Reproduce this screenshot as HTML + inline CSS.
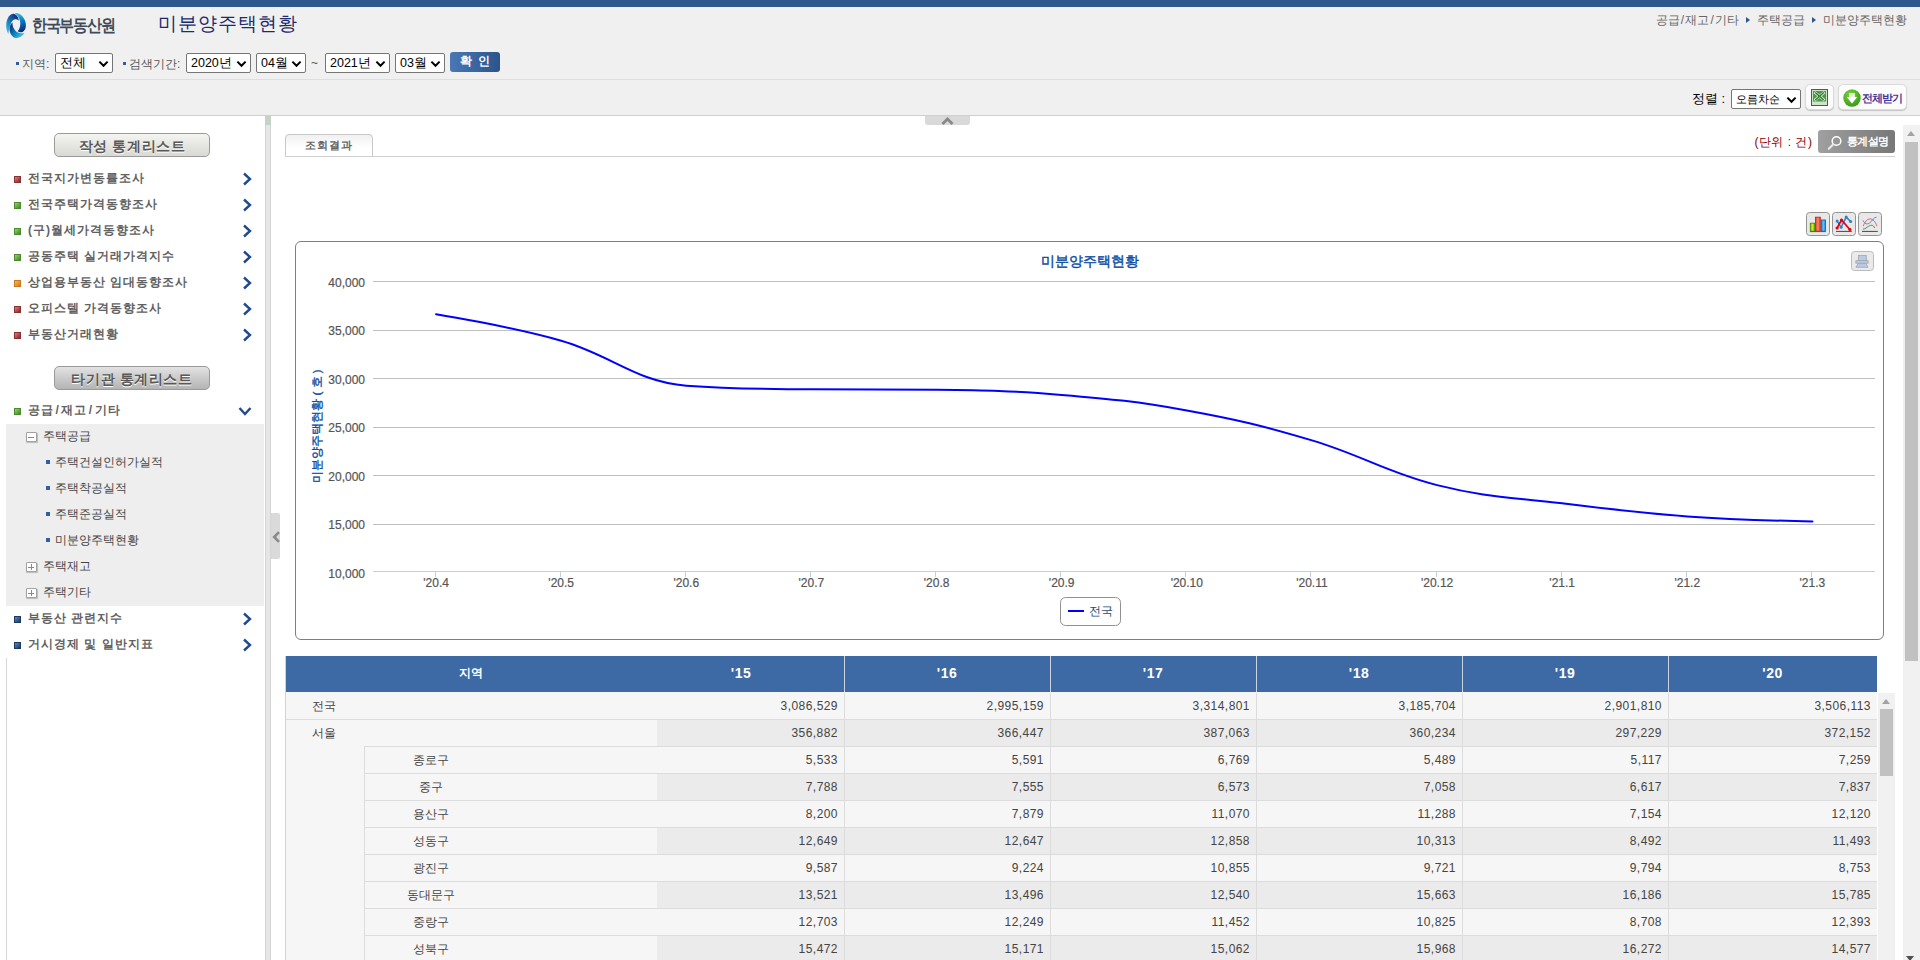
<!DOCTYPE html>
<html lang="ko">
<head>
<meta charset="utf-8">
<title>미분양주택현황</title>
<style>
*{box-sizing:border-box;margin:0;padding:0}
html,body{width:1920px;height:960px;overflow:hidden;position:relative;background:#fff;font-family:"Liberation Sans",sans-serif;font-size:12px;color:#333}
.abs{position:absolute}
#topbar{position:absolute;left:0;top:0;width:1920px;height:7px;background:#2e578c}
#header{position:absolute;left:0;top:7px;width:1920px;height:109px;background:#f0f0f0;border-bottom:1px solid #cfcfcf}
#hline{position:absolute;left:0;top:79px;width:1920px;height:1px;background:#dedede}
#sidebar{position:absolute;left:0;top:116px;width:265px;height:844px;background:#fff}
#splitter{position:absolute;left:265px;top:116px;width:5.5px;height:844px;background:#e6e6e6;border-left:1px solid #d4d4d4;border-right:1px solid #d4d4d4}
#splittop{position:absolute;left:265px;top:116px;width:5.5px;height:9px;background:#c6d2c8}
#splithandle{position:absolute;left:270.7px;top:513px;width:9.2px;height:45.5px;background:#dadada;border-radius:0 2px 2px 0;overflow:hidden;z-index:5}
#main{position:absolute;left:271px;top:116px;width:1632px;height:844px;background:#fff}
/* header */
#logotext{position:absolute;left:32px;top:15px;font-size:17px;font-weight:bold;color:#414a57;letter-spacing:-1.5px;line-height:22px;white-space:nowrap;transform:scaleX(.885);transform-origin:0 0}
#ptitle{position:absolute;left:158px;top:12px;font-size:19px;color:#1c2a6e;letter-spacing:1px;line-height:24px;white-space:nowrap}
#crumb{position:absolute;right:13px;top:12px;font-size:12px;color:#666;line-height:16px;white-space:nowrap;letter-spacing:0}
#crumb u{text-decoration:none;padding:0 1.2px}
#crumb i{display:inline-block;width:0;height:0;border-left:4px solid #2e578c;border-top:3px solid transparent;border-bottom:3px solid transparent;margin:0 7px 1px 7px;vertical-align:middle}
.flabel{position:absolute;top:56px;font-size:12px;color:#555;line-height:16px;white-space:nowrap}
.fbul{position:absolute;top:62px;width:3px;height:3px;background:#2e5fa3}
.sel{position:absolute;height:20px;border:1px solid #767676;border-radius:2px;background:#fff;font-size:12.5px;color:#000;line-height:19px;padding-left:4px;white-space:nowrap}
.sel svg{position:absolute;right:3.5px;top:5.5px}
#okbtn{position:absolute;left:450px;top:52px;width:50px;height:20px;border-radius:3px;background:linear-gradient(90deg,#4a78b4,#2c548b);color:#fff;font-weight:bold;font-size:12px;line-height:19px;text-align:center;letter-spacing:0;white-space:pre}
#sortlabel{position:absolute;left:1692px;top:91px;font-size:13px;color:#000;line-height:16px;white-space:nowrap}
.ibtn{position:absolute;border:1px solid #dadada;border-radius:5px;background:#fcfcfc;box-shadow:0 1px 1px rgba(0,0,0,.18)}
/* sidebar */
.sbtn{position:absolute;left:54px;width:156px;height:24px;border:1px solid #9a9a9a;border-radius:5px;text-align:center;font-size:14px;font-weight:bold;color:#585858;line-height:24px;letter-spacing:.6px;text-shadow:0 1px 0 #fff;white-space:nowrap}
.mi{position:absolute;left:28px;font-size:12px;font-weight:bold;color:#616161;letter-spacing:1px;line-height:16px;white-space:nowrap}
.mb{position:absolute;left:14px;width:7px;height:7px}
.chev{position:absolute;left:242px}
.sm{position:absolute;font-size:12px;color:#444;letter-spacing:0;line-height:16px;white-space:nowrap}
.sb{position:absolute;left:46px;width:4px;height:4px;background:#2e5fa3}
.pm{position:absolute;left:26.3px;width:10.4px;height:10.4px;border:1px solid #a2a2a2;border-radius:1px;background:#fff;box-shadow:.5px 1px 1px rgba(0,0,0,.22)}
.pm:before{content:"";position:absolute;left:1px;top:3px;width:6px;height:2px;background:#8a8a8a;height:1px;top:3.5px}
.pm.plus:after{content:"";position:absolute;left:3.5px;top:1px;width:1px;height:6px;background:#8a8a8a}
/* main */
#tab{position:absolute;left:285px;top:134px;width:88px;height:23px;border:1px solid #c8c8c8;border-radius:4px 4px 0 0;background:linear-gradient(#f0f0f0,#fff 60%);font-size:11px;font-weight:bold;color:#666;text-align:center;line-height:21px;letter-spacing:1.2px;white-space:nowrap}
#tabline{position:absolute;left:285px;top:156px;width:1610px;height:1px;background:#d0d0d0}
#unit{position:absolute;left:1754.5px;top:134px;font-size:12px;color:#8b0000;line-height:16px;white-space:nowrap;letter-spacing:0.5px}
#descbtn{position:absolute;left:1818px;top:130px;width:77px;height:23px;border-radius:3px;background:linear-gradient(90deg,#a0a0a0,#777);color:#fff;font-weight:bold;font-size:11px;line-height:22px;padding-left:29px;white-space:nowrap;letter-spacing:-.7px}
.cbtn{position:absolute;top:212.1px;width:23.5px;height:23.5px;border:1px solid #939393;border-radius:3.5px;background:#e9e8e8}
#chartbox{position:absolute;left:295px;top:241px;width:1589px;height:399px;border:1px solid #7f7f7f;border-radius:6px;background:#fff}
#printbtn{position:absolute;left:1851.3px;top:251.1px;width:23.2px;height:19.5px;border:1px solid #bcbcbc;border-radius:3.5px;background:#eaeaea}
/* table */
#thead{position:absolute;left:285px;top:656px;width:1592px;height:36px;background:#3d69a5}
.th{position:absolute;top:656px;height:36px;line-height:35px;color:#fff;font-weight:bold;font-size:14px;letter-spacing:.5px;text-align:center;white-space:nowrap}
.thsep{position:absolute;top:656px;width:1px;height:36px;background:#c9d3e2}
.row{position:absolute;left:286px;width:1591px;height:27px;background:#f6f6f6;border-bottom:1px solid #dcdcdc}
.alt{position:absolute;left:371px;top:0;width:1220px;height:26px;background:#ebebeb}
.c{position:absolute;top:0;height:26px;line-height:26px;font-size:12px;color:#444;white-space:nowrap;text-align:right;padding-right:6px;border-right:1px solid #dcdcdc;letter-spacing:0.45px}
.r1{position:absolute;left:26px;top:0;line-height:26px;font-size:12px;color:#444;white-space:nowrap}
.gu{position:absolute;left:78px;top:0;width:133px;height:26px;line-height:26px;text-align:center;font-size:12px;color:#444;border-left:1px solid #dcdcdc;white-space:nowrap}
/* scrollbars */
#sb1{position:absolute;left:1903px;top:125px;width:17px;height:835px;background:#f1f1f1}
#sb1 b{position:absolute;left:2px;top:17px;width:13px;height:519px;background:#c1c1c1}
#sb2{position:absolute;left:1878px;top:693px;width:17px;height:267px;background:#f1f1f1}
#sb2 b{position:absolute;left:2px;top:16px;width:13px;height:67px;background:#c1c1c1}
.sarr{position:absolute;left:4px;top:6px;width:0;height:0;border-left:4.5px solid transparent;border-right:4.5px solid transparent;border-bottom:5px solid #a3a3a3}
#page{position:absolute;left:0;top:0;width:1920px;height:960px;overflow:hidden}
</style>
</head>
<body>
<div id="page">
<div id="topbar"></div>
<div id="header"></div>
<div id="hline"></div>
<svg class="abs" style="left:4.9px;top:12.1px" width="22.5" height="27" viewBox="0 0 600 720">
  <defs>
    <linearGradient id="lg1" x1="0.1" y1="1" x2="0.9" y2="0.2"><stop offset="0" stop-color="#45c6e2"/><stop offset="0.45" stop-color="#0f7fc4"/><stop offset="1" stop-color="#1b2c78"/></linearGradient>
    <linearGradient id="lg2" x1="0.2" y1="0" x2="0.5" y2="1"><stop offset="0" stop-color="#36c4de"/><stop offset="0.45" stop-color="#0a86c6"/><stop offset="1" stop-color="#0b2a78"/></linearGradient>
    <linearGradient id="lg3" x1="1" y1="0.8" x2="0.1" y2="0.1"><stop offset="0" stop-color="#4ccbe2"/><stop offset="0.45" stop-color="#0a8cc8"/><stop offset="1" stop-color="#13297a"/></linearGradient>
  </defs>
  <path d="M 90 590 C 40 500 20 400 35 300 C 55 160 120 60 200 50 C 280 45 350 110 370 230 C 320 180 250 180 200 230 C 140 300 100 450 90 590 Z" fill="url(#lg1)"/>
  <path d="M 260 30 C 340 10 450 60 520 200 C 580 330 570 480 470 530 C 420 550 370 540 340 510 C 400 440 420 340 400 240 C 380 150 320 70 260 30 Z" fill="url(#lg2)"/>
  <path d="M 520 560 C 470 640 380 700 290 690 C 200 680 130 580 120 470 C 115 400 150 310 200 280 C 190 370 230 450 290 510 C 350 560 440 570 520 560 Z" fill="url(#lg3)"/>
</svg>
<div id="logotext">한국부동산원</div>
<div id="ptitle">미분양주택현황</div>
<div id="crumb">공급<u>/</u>재고<u>/</u>기타<i></i>주택공급<i></i>미분양주택현황</div>

<div class="fbul" style="left:16px"></div>
<div class="flabel" style="left:22px">지역:</div>
<div class="sel" style="left:55px;top:53px;width:58px">전체<svg width="11" height="8" viewBox="0 0 11 8"><path d="M1.4 1.6 L5.5 5.8 L9.6 1.6" fill="none" stroke="#000" stroke-width="2"/></svg></div>
<div class="fbul" style="left:123px"></div>
<div class="flabel" style="left:129px">검색기간:</div>
<div class="sel" style="left:186px;top:53px;width:65px">2020년<svg width="11" height="8" viewBox="0 0 11 8"><path d="M1.4 1.6 L5.5 5.8 L9.6 1.6" fill="none" stroke="#000" stroke-width="2"/></svg></div>
<div class="sel" style="left:256px;top:53px;width:50px">04월<svg width="11" height="8" viewBox="0 0 11 8"><path d="M1.4 1.6 L5.5 5.8 L9.6 1.6" fill="none" stroke="#000" stroke-width="2"/></svg></div>
<div class="flabel" style="left:311px;top:55px">~</div>
<div class="sel" style="left:325px;top:53px;width:65px">2021년<svg width="11" height="8" viewBox="0 0 11 8"><path d="M1.4 1.6 L5.5 5.8 L9.6 1.6" fill="none" stroke="#000" stroke-width="2"/></svg></div>
<div class="sel" style="left:395px;top:53px;width:50px">03월<svg width="11" height="8" viewBox="0 0 11 8"><path d="M1.4 1.6 L5.5 5.8 L9.6 1.6" fill="none" stroke="#000" stroke-width="2"/></svg></div>
<div id="okbtn">확  인</div>

<div id="sortlabel">정렬 :</div>
<div class="sel" style="left:1731px;top:89px;width:70px;font-size:11.3px">오름차순<svg width="11" height="8" viewBox="0 0 11 8"><path d="M1.4 1.6 L5.5 5.8 L9.6 1.6" fill="none" stroke="#000" stroke-width="2"/></svg></div>
<div class="ibtn" style="left:1805px;top:84px;width:28.5px;height:26px">
  <svg class="abs" style="left:5px;top:4px" width="17" height="17" viewBox="0 0 17 17">
    <rect x="0.5" y="0.5" width="16" height="16" fill="#cfe3c8" stroke="#356f35"/>
    <rect x="2" y="2" width="13" height="10.5" fill="#4c9a48"/>
    <path d="M3.5 3.2 L13.5 11.3 M13.5 3.2 L3.5 11.3" stroke="#e8f3e4" stroke-width="2.6"/>
    <path d="M4.2 3.6 L12.8 10.9 M12.8 3.6 L4.2 10.9" stroke="#1f7a2a" stroke-width="1.3"/>
  </svg>
</div>
<div class="ibtn" style="left:1837.5px;top:84px;width:69px;height:26px">
  <svg class="abs" style="left:4px;top:4px" width="18" height="18" viewBox="0 0 18 18">
    <defs><radialGradient id="dg" cx="0.4" cy="0.3" r="0.8"><stop offset="0" stop-color="#7ed23a"/><stop offset="1" stop-color="#2f9416"/></radialGradient></defs>
    <circle cx="9" cy="9" r="8.7" fill="url(#dg)"/>
    <path d="M6 4.2 H12 V8 H14.2 L9 14.6 L3.8 8 H6 Z" fill="#fff"/>
    <path d="M6 5.6 H12 M6 7 H12" stroke="#bfe3a8" stroke-width=".7"/>
  </svg>
  <div class="abs" style="left:23px;top:5px;font-size:11px;font-weight:bold;color:#46359a;line-height:16px;white-space:nowrap;letter-spacing:-1px">전체받기</div>
</div>
<div id="sidebar"></div>
<div id="splitter"></div><div id="splittop"></div>
<div id="splithandle"><svg class="abs" style="left:1px;top:18px" width="8" height="12" viewBox="0 0 8 12"><path d="M7 1.2 L2.2 6 L7 10.8" fill="none" stroke="#8a8a8a" stroke-width="2.6"/></svg></div>
<div class="sbtn" style="top:133px;background:linear-gradient(#f4f4f0,#d9d9d4)">작성 통계리스트</div>
<div class="sbtn" style="top:366px;background:linear-gradient(#e2e2e2,#b4b4b4)">타기관 통계리스트</div>
<div class="mb" style="top:175.5px;background:linear-gradient(135deg,#d98080,#8a2222);border:1px solid #8a3030"></div>
<div class="mi" style="top:170px">전국지가변동률조사</div>
<svg class="chev" style="top:172px" width="10" height="14" viewBox="0 0 10 14"><path d="M2 1.5 L8 7 L2 12.5" fill="none" stroke="#1f4b8e" stroke-width="2.4"/></svg>
<div class="mb" style="top:201.5px;background:linear-gradient(135deg,#9bd06a,#3a8a22);border:1px solid #4a8a30"></div>
<div class="mi" style="top:196px">전국주택가격동향조사</div>
<svg class="chev" style="top:198px" width="10" height="14" viewBox="0 0 10 14"><path d="M2 1.5 L8 7 L2 12.5" fill="none" stroke="#1f4b8e" stroke-width="2.4"/></svg>
<div class="mb" style="top:227.5px;background:linear-gradient(135deg,#9bd06a,#3a8a22);border:1px solid #4a8a30"></div>
<div class="mi" style="top:222px">(구)월세가격동향조사</div>
<svg class="chev" style="top:224px" width="10" height="14" viewBox="0 0 10 14"><path d="M2 1.5 L8 7 L2 12.5" fill="none" stroke="#1f4b8e" stroke-width="2.4"/></svg>
<div class="mb" style="top:253.5px;background:linear-gradient(135deg,#9bd06a,#3a8a22);border:1px solid #4a8a30"></div>
<div class="mi" style="top:248px">공동주택 실거래가격지수</div>
<svg class="chev" style="top:250px" width="10" height="14" viewBox="0 0 10 14"><path d="M2 1.5 L8 7 L2 12.5" fill="none" stroke="#1f4b8e" stroke-width="2.4"/></svg>
<div class="mb" style="top:279.5px;background:linear-gradient(135deg,#f5b860,#d87a10);border:1px solid #c87a20"></div>
<div class="mi" style="top:274px">상업용부동산 임대동향조사</div>
<svg class="chev" style="top:276px" width="10" height="14" viewBox="0 0 10 14"><path d="M2 1.5 L8 7 L2 12.5" fill="none" stroke="#1f4b8e" stroke-width="2.4"/></svg>
<div class="mb" style="top:305.5px;background:linear-gradient(135deg,#d98080,#8a2222);border:1px solid #8a3030"></div>
<div class="mi" style="top:300px">오피스텔 가격동향조사</div>
<svg class="chev" style="top:302px" width="10" height="14" viewBox="0 0 10 14"><path d="M2 1.5 L8 7 L2 12.5" fill="none" stroke="#1f4b8e" stroke-width="2.4"/></svg>
<div class="mb" style="top:331.5px;background:linear-gradient(135deg,#d98080,#8a2222);border:1px solid #8a3030"></div>
<div class="mi" style="top:326px">부동산거래현황</div>
<svg class="chev" style="top:328px" width="10" height="14" viewBox="0 0 10 14"><path d="M2 1.5 L8 7 L2 12.5" fill="none" stroke="#1f4b8e" stroke-width="2.4"/></svg>
<div class="mb" style="top:407.5px;background:linear-gradient(135deg,#9bd06a,#3a8a22);border:1px solid #4a8a30"></div>
<div class="mi" style="top:402px">공급<span style="padding:0 1.5px">/</span>재고<span style="padding:0 1.5px">/</span>기타</div>
<svg class="abs" style="left:238px;top:406px" width="14" height="10" viewBox="0 0 14 10"><path d="M1.5 2 L7 8 L12.5 2" fill="none" stroke="#1f4b8e" stroke-width="2.4"/></svg>
<div class="abs" style="left:6px;top:424px;width:258px;height:182px;background:#eeeeee"></div>
<div class="pm" style="top:432px"></div><div class="sm" style="left:43px;top:428px">주택공급</div>
<div class="sb" style="top:460px"></div><div class="sm" style="left:55px;top:454px">주택건설인허가실적</div>
<div class="sb" style="top:486px"></div><div class="sm" style="left:55px;top:480px">주택착공실적</div>
<div class="sb" style="top:512px"></div><div class="sm" style="left:55px;top:506px">주택준공실적</div>
<div class="sb" style="top:538px"></div><div class="sm" style="left:55px;top:532px">미분양주택현황</div>
<div class="pm plus" style="top:562px"></div><div class="sm" style="left:43px;top:558px">주택재고</div>
<div class="pm plus" style="top:588px"></div><div class="sm" style="left:43px;top:584px">주택기타</div>
<div class="mb" style="top:615.5px;background:linear-gradient(135deg,#5a88b8,#143a66);border:1px solid #1a3a60"></div>
<div class="mi" style="top:610px">부동산 관련지수</div>
<svg class="chev" style="top:612px" width="10" height="14" viewBox="0 0 10 14"><path d="M2 1.5 L8 7 L2 12.5" fill="none" stroke="#1f4b8e" stroke-width="2.4"/></svg>
<div class="mb" style="top:641.5px;background:linear-gradient(135deg,#5a88b8,#143a66);border:1px solid #1a3a60"></div>
<div class="mi" style="top:636px">거시경제 및 일반지표</div>
<svg class="chev" style="top:638px" width="10" height="14" viewBox="0 0 10 14"><path d="M2 1.5 L8 7 L2 12.5" fill="none" stroke="#1f4b8e" stroke-width="2.4"/></svg>
<div class="abs" style="left:6px;top:658px;width:1px;height:302px;background:#d8d8d8"></div>
<div id="main"></div>
<div class="abs" style="left:925px;top:116px;width:45px;height:9px;background:#d9d9d9;border-radius:0 0 3px 3px"><svg class="abs" style="left:16px;top:1px" width="13" height="8" viewBox="0 0 13 8"><path d="M1.5 7 L6.5 2 L11.5 7" fill="none" stroke="#888" stroke-width="2.8"/></svg></div>
<div id="tab">조회결과</div><div id="tabline"></div>
<div id="unit">(단위 : 건)</div>
<div id="descbtn"><svg class="abs" style="left:9px;top:5px" width="16" height="16" viewBox="0 0 16 16"><circle cx="9.5" cy="6" r="4.3" fill="none" stroke="#fff" stroke-width="1.5"/><path d="M6.3 9.3 L1.8 13.8" stroke="#e8e8e8" stroke-width="2.2" stroke-linecap="round"/></svg>통계설명</div>
<div class="cbtn" style="left:1806.1px"><svg width="22" height="22" viewBox="1 1 22 22"><defs><linearGradient id="bg1" x1="0" x2="1"><stop offset="0" stop-color="#7ab800"/><stop offset=".5" stop-color="#c8e832"/><stop offset="1" stop-color="#7ab800"/></linearGradient><linearGradient id="bg2" x1="0" x2="1"><stop offset="0" stop-color="#e03a20"/><stop offset=".5" stop-color="#ff8a70"/><stop offset="1" stop-color="#e03a20"/></linearGradient><linearGradient id="bg3" x1="0" x2="1"><stop offset="0" stop-color="#1a86d8"/><stop offset=".5" stop-color="#60c0ff"/><stop offset="1" stop-color="#1a86d8"/></linearGradient></defs><rect x="4.3" y="11.2" width="4.4" height="8" fill="url(#bg1)" stroke="#4f8a00" stroke-width=".9"/><rect x="9.5" y="5.2" width="4.8" height="14" fill="url(#bg2)" stroke="#c02a18" stroke-width=".9"/><rect x="15.3" y="8" width="4.2" height="11.2" fill="url(#bg3)" stroke="#0f6ab8" stroke-width=".9"/><path d="M4 19.6 H19.8" stroke="#5a5060" stroke-width=".9"/></svg></div>
<div class="cbtn" style="left:1832.1px"><svg width="22" height="22" viewBox="1 1 22 22"><path d="M4 19.4 H19.8" stroke="#4a4058" stroke-width="1"/><path d="M5.1 9.1 L9.1 15.3 L14.2 5.1 L18.6 9.5" fill="none" stroke="#2f80c8" stroke-width="1.5"/><path d="M5.1 16 L9.5 8 L17.9 17.5" fill="none" stroke="#e00010" stroke-width="1.7"/><circle cx="5.1" cy="9.1" r="1.5" fill="#2f80c8"/><circle cx="9.1" cy="15.3" r="1.5" fill="#2f80c8"/><circle cx="14.2" cy="5.1" r="1.5" fill="#2f80c8"/><circle cx="18.6" cy="9.5" r="1.5" fill="#2f80c8"/><circle cx="5.1" cy="16" r="1.6" fill="#e00010"/><circle cx="9.5" cy="8" r="1.6" fill="#e00010"/><circle cx="17.9" cy="17.5" r="1.6" fill="#e00010"/></svg></div>
<div class="cbtn" style="left:1858.1px"><svg width="22" height="22" viewBox="1 1 22 22"><path d="M4 19.4 H19.8" stroke="#4a4058" stroke-width="1"/><path d="M5 8.4 C7 12.5 9 12.5 11.5 11 C14.5 9 15.5 5.5 18.5 5.1" fill="none" stroke="#4a86f0" stroke-width="1"/><path d="M5.3 14.2 C6.5 10 9.5 6.9 11.9 6.9 C15 6.9 17.8 10 18.8 14.2" fill="none" stroke="#f06060" stroke-width="1"/><path d="M5 17.1 C7.5 17 8.5 15.5 10.5 14.3 C13 12.8 15.3 12.6 16.6 16" fill="none" stroke="#409a40" stroke-width="1"/></svg></div>
<div id="chartbox"></div>
<div id="printbtn"><svg class="abs" style="left:0;top:0" width="22" height="18" viewBox="1 1 22 18"><rect x="7.5" y="4.6" width="7.8" height="5.2" fill="#b8cce6" stroke="#a4a4a8" stroke-width=".8"/><rect x="4.9" y="9.7" width="12.2" height="2.5" fill="#b8cce6" stroke="#a4a4a8" stroke-width=".8"/><path d="M7.1 12.6 H15.1 L17 16.3 H4.9 Z" fill="#b8cce6" stroke="#a4a4a8" stroke-width=".8"/></svg></div>
<svg class="abs" style="left:0;top:0" width="1903" height="650" viewBox="0 0 1903 650" font-family="Liberation Sans, sans-serif">
<path d="M 373 281.5 H 1875" stroke="#c0c0c0" stroke-width="1"/>
<path d="M 373 330.5 H 1875" stroke="#c0c0c0" stroke-width="1"/>
<path d="M 373 378.5 H 1875" stroke="#c0c0c0" stroke-width="1"/>
<path d="M 373 427.5 H 1875" stroke="#c0c0c0" stroke-width="1"/>
<path d="M 373 475.5 H 1875" stroke="#c0c0c0" stroke-width="1"/>
<path d="M 373 524.5 H 1875" stroke="#c0c0c0" stroke-width="1"/>
<path d="M 373 571.5 H 1875" stroke="#c0d0e0" stroke-width="1"/>
<path d="M 435.5 571 V 577" stroke="#c0d0e0" stroke-width="1"/>
<path d="M 560.5 571 V 577" stroke="#c0d0e0" stroke-width="1"/>
<path d="M 685.5 571 V 577" stroke="#c0d0e0" stroke-width="1"/>
<path d="M 810.5 571 V 577" stroke="#c0d0e0" stroke-width="1"/>
<path d="M 935.5 571 V 577" stroke="#c0d0e0" stroke-width="1"/>
<path d="M 1060.5 571 V 577" stroke="#c0d0e0" stroke-width="1"/>
<path d="M 1185.5 571 V 577" stroke="#c0d0e0" stroke-width="1"/>
<path d="M 1310.5 571 V 577" stroke="#c0d0e0" stroke-width="1"/>
<path d="M 1436.5 571 V 577" stroke="#c0d0e0" stroke-width="1"/>
<path d="M 1561.5 571 V 577" stroke="#c0d0e0" stroke-width="1"/>
<path d="M 1686.5 571 V 577" stroke="#c0d0e0" stroke-width="1"/>
<path d="M 1811.5 571 V 577" stroke="#c0d0e0" stroke-width="1"/>
<text x="365" y="286.8" text-anchor="end" font-size="12" fill="#555" stroke="#555" stroke-width=".2">40,000</text>
<text x="365" y="335.3" text-anchor="end" font-size="12" fill="#555" stroke="#555" stroke-width=".2">35,000</text>
<text x="365" y="383.8" text-anchor="end" font-size="12" fill="#555" stroke="#555" stroke-width=".2">30,000</text>
<text x="365" y="432.3" text-anchor="end" font-size="12" fill="#555" stroke="#555" stroke-width=".2">25,000</text>
<text x="365" y="480.8" text-anchor="end" font-size="12" fill="#555" stroke="#555" stroke-width=".2">20,000</text>
<text x="365" y="529.3" text-anchor="end" font-size="12" fill="#555" stroke="#555" stroke-width=".2">15,000</text>
<text x="365" y="577.8" text-anchor="end" font-size="12" fill="#555" stroke="#555" stroke-width=".2">10,000</text>
<text x="436.1" y="587" text-anchor="middle" font-size="12" fill="#555" stroke="#555" stroke-width=".2">'20.4</text>
<text x="561.2" y="587" text-anchor="middle" font-size="12" fill="#555" stroke="#555" stroke-width=".2">'20.5</text>
<text x="686.3" y="587" text-anchor="middle" font-size="12" fill="#555" stroke="#555" stroke-width=".2">'20.6</text>
<text x="811.4" y="587" text-anchor="middle" font-size="12" fill="#555" stroke="#555" stroke-width=".2">'20.7</text>
<text x="936.6" y="587" text-anchor="middle" font-size="12" fill="#555" stroke="#555" stroke-width=".2">'20.8</text>
<text x="1061.7" y="587" text-anchor="middle" font-size="12" fill="#555" stroke="#555" stroke-width=".2">'20.9</text>
<text x="1186.8" y="587" text-anchor="middle" font-size="12" fill="#555" stroke="#555" stroke-width=".2">'20.10</text>
<text x="1311.9" y="587" text-anchor="middle" font-size="12" fill="#555" stroke="#555" stroke-width=".2">'20.11</text>
<text x="1437.1" y="587" text-anchor="middle" font-size="12" fill="#555" stroke="#555" stroke-width=".2">'20.12</text>
<text x="1562.2" y="587" text-anchor="middle" font-size="12" fill="#555" stroke="#555" stroke-width=".2">'21.1</text>
<text x="1687.3" y="587" text-anchor="middle" font-size="12" fill="#555" stroke="#555" stroke-width=".2">'21.2</text>
<text x="1812.4" y="587" text-anchor="middle" font-size="12" fill="#555" stroke="#555" stroke-width=".2">'21.3</text>
<text x="1090" y="266" text-anchor="middle" font-size="14" fill="#0f4fa3" stroke="#0f4fa3" stroke-width=".45">미분양주택현황</text>
<text transform="translate(321,426) rotate(-90)" text-anchor="middle" font-size="11.5" fill="#0f4fa3" stroke="#0f4fa3" stroke-width=".35">미분양주택현황 ( 호 )</text>
<path d="M 436.06 314.20 C 436.06 314.20 511.14 326.44 561.19 340.73 C 611.24 355.02 636.26 381.98 686.31 385.66 C 736.36 389.33 761.39 388.83 811.44 389.33 C 861.49 389.84 886.51 389.33 936.56 389.84 C 986.61 390.34 1011.64 390.77 1061.69 394.90 C 1111.74 399.03 1136.76 401.38 1186.81 410.48 C 1236.86 419.58 1261.89 425.45 1311.94 440.39 C 1361.99 455.32 1387.01 472.56 1437.06 485.15 C 1487.11 497.74 1512.14 497.09 1562.19 503.34 C 1612.24 509.58 1637.26 512.77 1687.31 516.38 C 1737.36 519.98 1812.44 521.38 1812.44 521.38" fill="none" stroke="#0000ff" stroke-width="2" stroke-linejoin="round" stroke-linecap="round"/>
<rect x="1060.5" y="597.5" width="60" height="28" rx="5" fill="#fff" stroke="#909090"/>
<path d="M1068 611 H1084" stroke="#0000ff" stroke-width="2"/>
<text x="1089" y="615" font-size="12" fill="#274b6d">전국</text>
</svg>
<div id="thead"></div>
<div class="abs" style="left:285px;top:692px;width:1592px;height:1px;background:#f6f6f6"></div>
<div class="abs" style="left:285px;top:656px;width:1px;height:304px;background:#d2d2d2"></div>
<div class="th" style="left:285px;width:371px;font-size:12px;letter-spacing:0">지역</div>
<div class="th" style="left:638px;width:206px">'15</div>
<div class="th" style="left:844px;width:206px">'16</div>
<div class="th" style="left:1050px;width:206px">'17</div>
<div class="th" style="left:1256px;width:206px">'18</div>
<div class="th" style="left:1462px;width:206px">'19</div>
<div class="th" style="left:1668px;width:209px">'20</div>
<div class="thsep" style="left:844px"></div>
<div class="thsep" style="left:1050px"></div>
<div class="thsep" style="left:1256px"></div>
<div class="thsep" style="left:1462px"></div>
<div class="thsep" style="left:1668px"></div>
<div class="row" style="top:693px"><div class="r1">전국</div><div class="c" style="left:371px;width:188px">3,086,529</div><div class="c" style="left:559px;width:206px">2,995,159</div><div class="c" style="left:765px;width:206px">3,314,801</div><div class="c" style="left:971px;width:206px">3,185,704</div><div class="c" style="left:1177px;width:206px">2,901,810</div><div class="c" style="left:1383px;border-right:0;width:208px">3,506,113</div></div>
<div class="row" style="top:720px"><div class="alt"></div><div class="r1">서울</div><div class="c" style="left:371px;width:188px">356,882</div><div class="c" style="left:559px;width:206px">366,447</div><div class="c" style="left:765px;width:206px">387,063</div><div class="c" style="left:971px;width:206px">360,234</div><div class="c" style="left:1177px;width:206px">297,229</div><div class="c" style="left:1383px;border-right:0;width:208px">372,152</div></div>
<div class="row" style="top:747px"><div class="gu">종로구</div><div class="c" style="left:371px;width:188px">5,533</div><div class="c" style="left:559px;width:206px">5,591</div><div class="c" style="left:765px;width:206px">6,769</div><div class="c" style="left:971px;width:206px">5,489</div><div class="c" style="left:1177px;width:206px">5,117</div><div class="c" style="left:1383px;border-right:0;width:208px">7,259</div></div>
<div class="row" style="top:774px"><div class="alt"></div><div class="gu">중구</div><div class="c" style="left:371px;width:188px">7,788</div><div class="c" style="left:559px;width:206px">7,555</div><div class="c" style="left:765px;width:206px">6,573</div><div class="c" style="left:971px;width:206px">7,058</div><div class="c" style="left:1177px;width:206px">6,617</div><div class="c" style="left:1383px;border-right:0;width:208px">7,837</div></div>
<div class="row" style="top:801px"><div class="gu">용산구</div><div class="c" style="left:371px;width:188px">8,200</div><div class="c" style="left:559px;width:206px">7,879</div><div class="c" style="left:765px;width:206px">11,070</div><div class="c" style="left:971px;width:206px">11,288</div><div class="c" style="left:1177px;width:206px">7,154</div><div class="c" style="left:1383px;border-right:0;width:208px">12,120</div></div>
<div class="row" style="top:828px"><div class="alt"></div><div class="gu">성동구</div><div class="c" style="left:371px;width:188px">12,649</div><div class="c" style="left:559px;width:206px">12,647</div><div class="c" style="left:765px;width:206px">12,858</div><div class="c" style="left:971px;width:206px">10,313</div><div class="c" style="left:1177px;width:206px">8,492</div><div class="c" style="left:1383px;border-right:0;width:208px">11,493</div></div>
<div class="row" style="top:855px"><div class="gu">광진구</div><div class="c" style="left:371px;width:188px">9,587</div><div class="c" style="left:559px;width:206px">9,224</div><div class="c" style="left:765px;width:206px">10,855</div><div class="c" style="left:971px;width:206px">9,721</div><div class="c" style="left:1177px;width:206px">9,794</div><div class="c" style="left:1383px;border-right:0;width:208px">8,753</div></div>
<div class="row" style="top:882px"><div class="alt"></div><div class="gu">동대문구</div><div class="c" style="left:371px;width:188px">13,521</div><div class="c" style="left:559px;width:206px">13,496</div><div class="c" style="left:765px;width:206px">12,540</div><div class="c" style="left:971px;width:206px">15,663</div><div class="c" style="left:1177px;width:206px">16,186</div><div class="c" style="left:1383px;border-right:0;width:208px">15,785</div></div>
<div class="row" style="top:909px"><div class="gu">중랑구</div><div class="c" style="left:371px;width:188px">12,703</div><div class="c" style="left:559px;width:206px">12,249</div><div class="c" style="left:765px;width:206px">11,452</div><div class="c" style="left:971px;width:206px">10,825</div><div class="c" style="left:1177px;width:206px">8,708</div><div class="c" style="left:1383px;border-right:0;width:208px">12,393</div></div>
<div class="row" style="top:936px"><div class="alt"></div><div class="gu">성북구</div><div class="c" style="left:371px;width:188px">15,472</div><div class="c" style="left:559px;width:206px">15,171</div><div class="c" style="left:765px;width:206px">15,062</div><div class="c" style="left:971px;width:206px">15,968</div><div class="c" style="left:1177px;width:206px">16,272</div><div class="c" style="left:1383px;border-right:0;width:208px">14,577</div></div>
<div class="abs" style="left:286px;top:746px;width:78px;height:214px;background:#f6f6f6"></div>
<div class="abs" style="left:1906px;top:956px;width:0;height:0;border-left:4.5px solid transparent;border-right:4.5px solid transparent;border-top:5px solid #505050;z-index:6"></div>
<div id="sb1"><i class="sarr"></i><b></b></div>
<div id="sb2"><i class="sarr"></i><b></b></div>
</div></body></html>
